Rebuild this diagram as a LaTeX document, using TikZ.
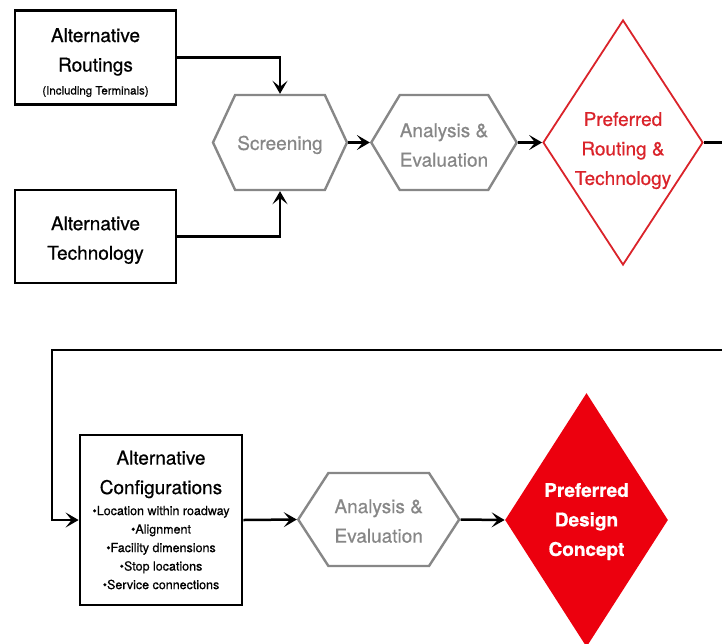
\documentclass[tikz,border=0pt]{standalone}
\usepackage{fontspec}
\setmainfont{TeX Gyre Heros}[FakeBold=0.6]
\usepackage{tikz}
\usetikzlibrary{shapes.geometric,shapes.symbols,arrows.meta}
\definecolor{mygrey}{RGB}{135,135,135}
\definecolor{myred}{RGB}{218,35,42}
\definecolor{myfillred}{RGB}{236,0,14}
\tikzset{every picture/.style={line width=0.75pt}}
\newcommand{\bigtxt}{\fontsize{19}{29.5}\selectfont}
\newcommand{\smalltxt}{\fontsize{11.5}{14}\selectfont}
\newcommand{\listtxt}{\fontsize{12.5}{14}\selectfont}
\newcommand{\dropline}[1]{\rule{0pt}{#1}}

\begin{document}
\begin{tikzpicture}[x=1pt,y=1pt,yscale=-1,xscale=1,
  altbox/.style={draw, line width=2.8pt, minimum width=161pt, align=center, inner sep=0pt, font=\bigtxt},
  hexbox/.style={signal, signal to=west and east, draw=mygrey, line width=2.4pt, text=mygrey, align=center, inner sep=0pt, font=\bigtxt},
  prefbox/.style={diamond, aspect=0.65, align=center, inner sep=0pt, font=\bigtxt},
  flow/.style={line width=2.5pt, -{Stealth[length=13pt,width=15pt,inset=6pt]}}]
\useasboundingbox (0,0) rectangle (722,643);
\clip (0,0) rectangle (722,643);

%Shape: Rectangle [id:routings]
\node[altbox, minimum height=94pt] (routings) at (95.5,57.5) {\dropline{24pt}Alternative\\Routings\\[-6.5pt]{\smalltxt(Including Terminals)}};
%Shape: Rectangle [id:techno]
\node[altbox, minimum height=93pt] (techno) at (95.5,236.5) {\dropline{21pt}Alternative\\Technology};
%Shape: Hexagon [id:screen]
\node[hexbox, minimum width=134pt, minimum height=95pt, signal pointer angle=130] (screen) at (280,142.5) {\dropline{19pt}Screening};
%Shape: Hexagon [id:anlys]
\node[hexbox, minimum width=142pt, minimum height=95pt, signal pointer angle=118] (anlys) at (444,142.5) {\dropline{19pt}Analysis \&\\Evaluation};
%Shape: Diamond [id:prefroute]
\node[prefbox, draw=myred, line width=1.8pt, text=myred, minimum width=160pt, minimum height=245pt] (prefroute) at (623,142.5) {\dropline{30pt}Preferred\\Routing \&\\Technology};

%Shape: Rectangle [id:config]
\node[altbox, minimum width=162pt, minimum height=170pt] (config) at (161,520) {Alternative\\Configurations\\[-8.5pt]{\listtxt\textbullet Location within roadway}\\[-11pt]{\listtxt\textbullet Alignment}\\[-11pt]{\listtxt\textbullet Facility dimensions}\\[-11pt]{\listtxt\textbullet Stop locations}\\[-11pt]{\listtxt\textbullet Service connections}};
%Shape: Hexagon [id:anlys2]
\node[hexbox, minimum width=161pt, minimum height=93pt, signal pointer angle=114] (anlys2) at (378.7,519.5) {\dropline{17pt}Analysis \&\\Evaluation};
%Shape: Diamond [id:prefdesign]
\node[prefbox, fill=myfillred, text=white, minimum width=163pt, minimum height=254pt, font=\bigtxt\bfseries] (prefdesign) at (586.5,520) {\dropline{17pt}Preferred\\Design\\Concept};

%Straight Lines
\coordinate (outA) at (722,142.5);
\coordinate (outB) at (722,350);
\coordinate (turn) at (52,350);
\draw[flow] (routings.east) -| (screen.north);
\draw[flow] (techno.east) -| (screen.south);
\draw[flow] (screen.east) -- (anlys.west);
\draw[flow] (anlys.east) -- (prefroute.west);
\draw[line width=2.5pt] (prefroute.east) -- (outA);
\draw[flow] (outB) -- (turn) |- (config.west);
\draw[flow] (config.east) -- (anlys2.west);
\draw[flow] (anlys2.east) -- (prefdesign.west);
\end{tikzpicture}
\end{document}
